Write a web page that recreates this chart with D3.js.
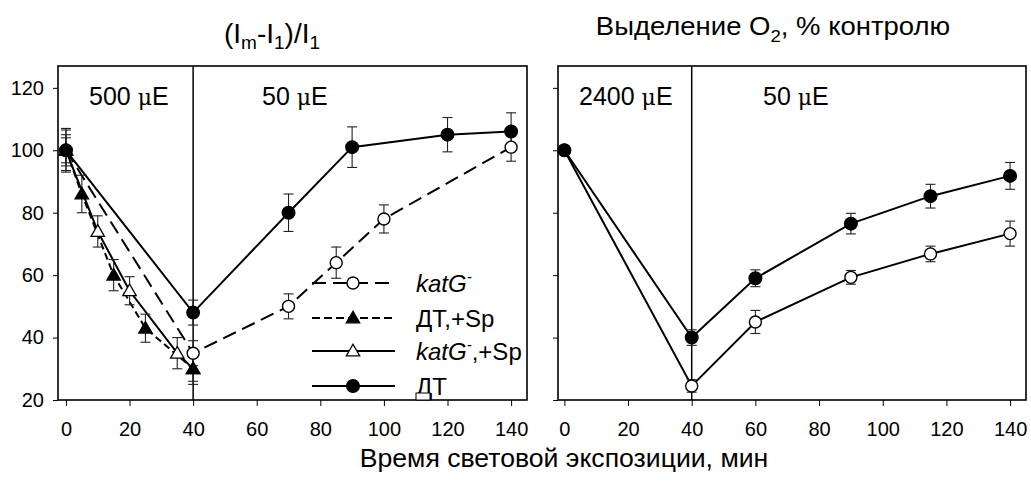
<!DOCTYPE html>
<html><head><meta charset="utf-8">
<script src="https://cdn.jsdelivr.net/npm/d3@7"></script>
<style>
body{margin:0;background:#fff;}
svg{display:block;font-family:Arial,"Liberation Sans",sans-serif;}
</style></head>
<body><svg id="c" width="1031" height="486"></svg>
<script>
// ---- data ----
const xTicks = [0, 20, 40, 60, 80, 100, 120, 140];
const yTicks = [20, 40, 60, 80, 100, 120];

// left panel: (Im-I1)/I1
const leftKatGTime = [0, 40, 70, 85, 100, 140];
const leftKatGVal  = [100, 35, 50, 64, 78, 101];
const leftKatGErr  = [5, 4, 4, 5, 4.5, 4.5];

const leftDTSpTime = [0, 5, 15, 25, 40];
const leftDTSpVal  = [100, 86, 60, 43, 30];
const leftDTSpErr  = [6.5, 6, 5, 4.5, 5];

const leftKatGSpTime = [0, 10, 20, 35, 40];
const leftKatGSpVal  = [100, 74, 55, 35, 30];
const leftKatGSpErr  = [4, 5, 4.5, 5, 4];

const leftDTTime = [0, 40, 70, 90, 120, 140];
const leftDTVal  = [100, 48, 80, 101, 105, 106];
const leftDTErr  = [7, 4, 6, 6.5, 5.5, 6];

// right panel: O2 evolution, % of control
const rightTime   = [0, 40, 60, 90, 115, 140];
const rightKatGVal = [100, 24.5, 45, 59.3, 66.8, 73.3];
const rightKatGErr = [0, 2, 3.7, 2.2, 2.5, 4];
const rightDTVal   = [100, 40, 59, 76.5, 85.3, 91.8];
const rightDTErr   = [0, 2.5, 2.7, 3.3, 3.8, 4.3];

const legendLabels = ["katG", "ДТ,+Sp", "katG", "ДТ"];

// ---- drawing ----
const svg = d3.select("#c");
const FONT = 'Arial,"Liberation Sans",sans-serif';

const y = d3.scaleLinear().domain([20, 127]).range([400, 66]);
const xL = d3.scaleLinear().domain([-2.5, 145]).range([58, 527]);
const xR = d3.scaleLinear().domain([-2, 145]).range([558, 1026]);

function zip(t, v, e) { return t.map((d, i) => ({x: d, y: v[i], e: e[i]})); }

function frame(x, showLabels) {
  const g = svg.append("g");
  const [x0, x1] = x.range();
  const [yb, yt] = y.range();
  const ax = g.append("g").attr("transform", `translate(0,${yb})`)
    .call(d3.axisBottom(x).tickValues(xTicks).tickSize(6).tickSizeOuter(0).tickPadding(16));
  ax.select(".domain").remove();
  ax.selectAll("text").attr("font-size", 20).attr("font-family", FONT).attr("fill", "#000");
  ax.selectAll("line").attr("stroke", "#000");
  const ay = g.append("g").attr("transform", `translate(${x0},0)`)
    .call(d3.axisLeft(y).tickValues(yTicks).tickSize(5).tickSizeOuter(0).tickPadding(9)
      .tickFormat(showLabels ? d3.format("d") : () => ""));
  ay.select(".domain").remove();
  ay.selectAll("text").attr("font-size", 20).attr("font-family", FONT).attr("fill", "#000");
  ay.selectAll("line").attr("stroke", "#000");
  g.append("rect").attr("x", x0).attr("y", yt).attr("width", x1 - x0).attr("height", yb - yt)
    .attr("fill", "none").attr("stroke", "#000").attr("stroke-width", 1.6);
  g.append("line").attr("x1", x(40)).attr("x2", x(40)).attr("y1", yt).attr("y2", yb)
    .attr("stroke", "#000").attr("stroke-width", 1.5);
}

function drawLine(x, data, dash) {
  svg.append("path").datum(data)
    .attr("d", d3.line().x(d => x(d.x)).y(d => y(d.y)))
    .attr("fill", "none").attr("stroke", "#000").attr("stroke-width", 2)
    .attr("stroke-dasharray", dash || null);
}
function drawErr(x, data) {
  const g = svg.append("g").attr("stroke", "#222").attr("stroke-width", 1.1);
  data.filter(d => d.e > 0).forEach(d => {
    const cx = x(d.x), t = y(d.y + d.e), b = y(d.y - d.e);
    g.append("line").attr("x1", cx).attr("x2", cx).attr("y1", t).attr("y2", b);
    g.append("line").attr("x1", cx - 5).attr("x2", cx + 5).attr("y1", t).attr("y2", t);
    g.append("line").attr("x1", cx - 5).attr("x2", cx + 5).attr("y1", b).attr("y2", b);
  });
}
function marker(g, type, cx, cy) {
  if (type === "circleFill" || type === "circleOpen") {
    g.append("circle").attr("cx", cx).attr("cy", cy).attr("r", type === "circleFill" ? 6.3 : 6)
      .attr("fill", type === "circleFill" ? "#000" : "#fff").attr("stroke", "#000").attr("stroke-width", 1.4);
  } else {
    g.append("path").attr("d", d3.symbol(d3.symbolTriangle, 78)())
      .attr("transform", `translate(${cx},${cy + 1})`)
      .attr("fill", type === "triFill" ? "#000" : "#fff").attr("stroke", "#000").attr("stroke-width", 1.3);
  }
}
function drawMarkers(x, data, type) {
  const g = svg.append("g");
  data.forEach(d => marker(g, type, x(d.x), y(d.y)));
}

const DASH_LONG = "14,7";
const DASH_SHORT = "7,4";

// left panel
frame(xL, true);
const sKatG = zip(leftKatGTime, leftKatGVal, leftKatGErr);
const sDTSp = zip(leftDTSpTime, leftDTSpVal, leftDTSpErr);
const sKatGSp = zip(leftKatGSpTime, leftKatGSpVal, leftKatGSpErr);
const sDT = zip(leftDTTime, leftDTVal, leftDTErr);
drawLine(xL, sKatG, DASH_LONG);
drawLine(xL, sDTSp, DASH_SHORT);
drawLine(xL, sKatGSp, null);
drawLine(xL, sDT, null);
[sKatG, sDTSp, sKatGSp, sDT].forEach(s => drawErr(xL, s));
drawMarkers(xL, sKatGSp, "triOpen");
drawMarkers(xL, sDTSp, "triFill");
drawMarkers(xL, sKatG, "circleOpen");
drawMarkers(xL, sDT, "circleFill");

// right panel
frame(xR, false);
const rKatG = zip(rightTime, rightKatGVal, rightKatGErr);
const rDT = zip(rightTime, rightDTVal, rightDTErr);
drawLine(xR, rKatG, null);
drawLine(xR, rDT, null);
drawErr(xR, rKatG); drawErr(xR, rDT);
drawMarkers(xR, rKatG, "circleOpen");
drawMarkers(xR, rDT, "circleFill");

// legend
const legRows = [
  {label: legendLabels[0], italic: true, sup: "-", rest: "", dash: DASH_LONG, m: "circleOpen"},
  {label: legendLabels[1], italic: false, sup: "", rest: "", dash: "8,4", m: "triFill"},
  {label: legendLabels[2], italic: true, sup: "-", rest: ",+Sp", dash: null, m: "triOpen"},
  {label: legendLabels[3], italic: false, sup: "", rest: "", dash: null, m: "circleFill"}
];
const legY = [283, 318, 351, 386];
const lg = svg.append("g");
legRows.forEach((r, i) => {
  const yy = legY[i];
  lg.append("line").attr("x1", 312).attr("x2", 395).attr("y1", yy).attr("y2", yy)
    .attr("stroke", "#000").attr("stroke-width", 2).attr("stroke-dasharray", r.dash);
  marker(lg, r.m, 353, yy);
  const t = lg.append("text").attr("x", 416).attr("y", yy + 9).attr("font-size", 24).attr("font-family", FONT);
  t.append("tspan").attr("font-style", r.italic ? "italic" : "normal").text(r.label);
  if (r.sup) t.append("tspan").attr("font-size", 15).attr("dy", -10).attr("font-style", "italic").text(r.sup);
  if (r.rest) t.append("tspan").attr("dy", r.sup ? 10 : 0).text(r.rest);
});
lg.append("rect").attr("x", 416).attr("y", 393).attr("width", 14).attr("height", 7)
  .attr("fill", "#fff").attr("stroke", "#000").attr("stroke-width", 1);

// annotations
function ann(x, yy, num) {
  const t = svg.append("text").attr("x", x).attr("y", yy).attr("font-size", 25).attr("font-family", FONT);
  t.append("tspan").text(num + " ");
  t.append("tspan").attr("font-family", "'DejaVu Serif',serif").attr("font-size", 22).text("μ");
  t.append("tspan").text("E");
}
ann(89, 105, "500");
ann(262, 105, "50");
ann(579, 105, "2400");
ann(763, 105, "50");

// titles
const t1 = svg.append("text").attr("x", 272).attr("y", 43).attr("text-anchor", "middle")
  .attr("font-size", 28).attr("font-family", FONT);
t1.append("tspan").text("(I");
t1.append("tspan").attr("font-size", 19).attr("dy", 6).text("m");
t1.append("tspan").attr("dy", -6).text("-I");
t1.append("tspan").attr("font-size", 19).attr("dy", 6).text("1");
t1.append("tspan").attr("dy", -6).text(")/I");
t1.append("tspan").attr("font-size", 19).attr("dy", 6).text("1");

const t2 = svg.append("text").attr("transform", "translate(773,35) scale(1.1,1)")
  .attr("text-anchor", "middle").attr("font-size", 25).attr("font-family", FONT);
t2.append("tspan").text("Выделение O");
t2.append("tspan").attr("font-size", 17).attr("dy", 7).text("2");
t2.append("tspan").attr("dy", -7).text(", % контролю");

svg.append("text").attr("transform", "translate(564,467) scale(1.065,1)").attr("text-anchor", "middle")
  .attr("font-size", 25).attr("font-family", FONT).text("Время световой экспозиции, мин");
</script></body></html>
